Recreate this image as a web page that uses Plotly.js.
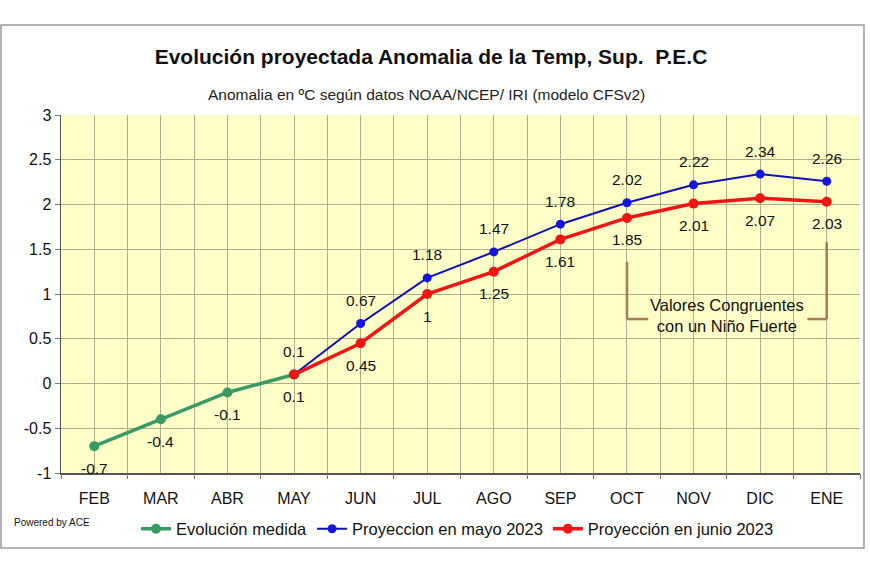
<!DOCTYPE html>
<html>
<head>
<meta charset="utf-8">
<script src="https://cdn.plot.ly/plotly-3.0.1.min.js"></script>
<style>html,body{margin:0;padding:0;background:#fff;}#chart{width:870px;height:580px;}</style>
</head>
<body>
<div id="chart"></div>
<script>
const months = ["FEB","MAR","ABR","MAY","JUN","JUL","AGO","SEP","OCT","NOV","DIC","ENE"];
const medidaMonths = ["FEB","MAR","ABR","MAY"];
const medidaValues = [-0.7,-0.4,-0.1,0.1];
const projMonths = ["MAY","JUN","JUL","AGO","SEP","OCT","NOV","DIC","ENE"];
const mayoValues = [0.1,0.67,1.18,1.47,1.78,2.02,2.22,2.34,2.26];
const junioValues = [0.1,0.45,1,1.25,1.61,1.85,2.01,2.07,2.03];
const yTickVals = [-1,-0.5,0,0.5,1,1.5,2,2.5,3];
const yTickText = ["-1","-0.5","0","0.5","1","1.5","2","2.5","3"];

const traces = [
  {x: medidaMonths, y: medidaValues, name: "Evolución medida", mode: "lines+markers",
   line: {color: "#3A9A64", width: 3.5}, marker: {color: "#3A9A64", size: 10}},
  {x: projMonths, y: mayoValues, name: "Proyeccion en mayo 2023", mode: "lines+markers",
   line: {color: "#1010B0", width: 2}, marker: {color: "#1515E0", size: 9}},
  {x: projMonths, y: junioValues, name: "Proyección en junio 2023", mode: "lines+markers",
   line: {color: "#EE1515", width: 3.5}, marker: {color: "#EE1515", size: 10}},
  {x: [0], y: [0], xaxis: "x2", yaxis: "y", showlegend: false, hoverinfo: "skip",
   mode: "markers", marker: {opacity: 0}}
];

const FONT = "Liberation Sans, Arial, sans-serif";
const labelFont = {family: FONT, size: 15.5, color: "#111"};
const annotations = [];
medidaMonths.forEach((m,i)=>annotations.push({x: m, y: medidaValues[i], text: String(medidaValues[i]), showarrow: false, yshift: -22, font: labelFont}));
projMonths.forEach((m,i)=>{ annotations.push({x: m, y: mayoValues[i], text: String(mayoValues[i]), showarrow: false, yshift: 23, font: labelFont}); });
projMonths.forEach((m,i)=>{ if (i>0) annotations.push({x: m, y: junioValues[i], text: String(junioValues[i]), showarrow: false, yshift: -22, font: labelFont}); });

annotations.push({xref: "paper", yref: "paper", x: (426-61)/799, y: (473-84)/358, text: "Anomalia en ºC según datos NOAA/NCEP/ IRI (modelo CFSv2)", showarrow: false, font: {family: FONT, size: 15.5, color: "#222"}});
annotations.push({xref: "paper", yref: "paper", x: (12-61)/799, xanchor: "left", y: (473-530)/358, text: "Powered by ACE", showarrow: false, font: {family: FONT, size: 10, color: "#111"}});
annotations.push({x: 9.5, y: 0.755, text: "Valores Congruentes<br>con un Niño Fuerte", showarrow: false, font: {family: FONT, size: 16.5, color: "#111"}});

const bracket = {color: "#A8785A", width: 2.5};
const shapes = [
  {type: "rect", xref: "paper", yref: "paper", x0: (1-61)/799, x1: (864-61)/799, y0: (473-548)/358, y1: (473-25)/358, line: {color: "#9a9a9a", width: 1.5}},
  {type: "line", x0: 8, x1: 8, y0: 1.36, y1: 0.72, line: bracket},
  {type: "line", x0: 8, x1: 8.32, y0: 0.72, y1: 0.72, line: bracket},
  {type: "line", x0: 11, x1: 11, y0: 1.58, y1: 0.72, line: bracket},
  {type: "line", x0: 10.71, x1: 11, y0: 0.72, y1: 0.72, line: bracket}
];

const layout = {
  width: 870, height: 580,
  margin: {l: 61, r: 10, t: 115, b: 107},
  paper_bgcolor: "#ffffff",
  plot_bgcolor: "#FFFFC8",
  font: {family: FONT, color: "#111"},
  title: {text: "<b>Evolución proyectada Anomalia de la Temp, Sup.  P.E.C</b>", x: 431/870, xanchor: "center", y: 1-57/580, yanchor: "middle", yref: "container",
          font: {family: FONT, size: 21, color: "#111"}},
  xaxis: {type: "category", categoryorder: "array", categoryarray: months, range: [-0.5, 11.5],
          showgrid: true, gridcolor: "#B0AE8C", gridwidth: 1, ticks: "",
          showline: true, linecolor: "#555", linewidth: 1.5, zeroline: false, ticklabelstandoff: 10,
          tickfont: {size: 16, color: "#111"}, fixedrange: true},
  xaxis2: {type: "linear", overlaying: "x", range: [-0.5, 11.5], tick0: 0.5, dtick: 1,
           showgrid: true, gridcolor: "#B0AE8C", gridwidth: 1, ticks: "outside", ticklen: 5,
           tickcolor: "#777", showticklabels: false, zeroline: false, side: "bottom"},
  yaxis: {range: [-1, 3], tickvals: yTickVals, ticktext: yTickText, showgrid: true, gridcolor: "#B0AE8C",
          gridwidth: 1, zeroline: false, showline: true, linecolor: "#555", linewidth: 1.5,
          ticks: "outside", ticklen: 5, tickcolor: "#777", tickfont: {size: 16, color: "#111"}},
  showlegend: true,
  legend: {orientation: "h", x: (136-61)/799, xanchor: "left", y: (473-529)/358, yanchor: "middle",
           font: {size: 16.5, color: "#111"}, bgcolor: "rgba(0,0,0,0)", itemwidth: 30, tracegroupgap: 0},
  annotations: annotations,
  shapes: shapes
};

Plotly.newPlot("chart", traces, layout, {displayModeBar: false, staticPlot: true});
</script>
</body>
</html>
